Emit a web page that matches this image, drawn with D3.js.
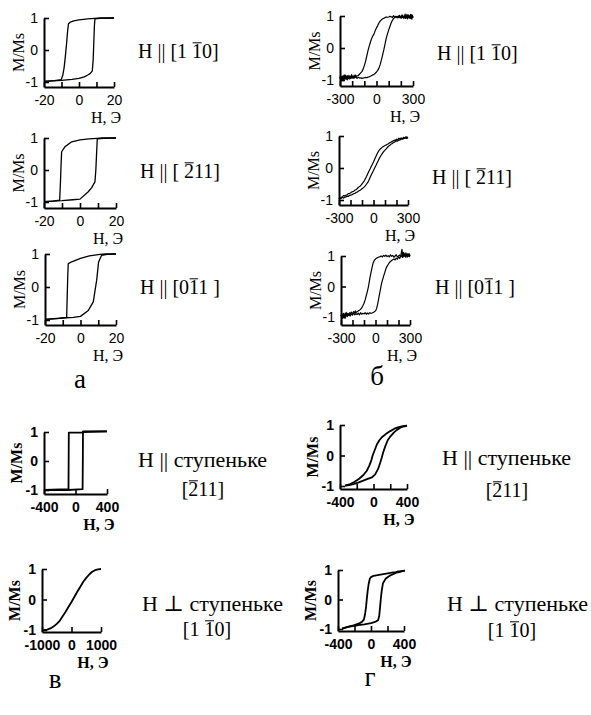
<!DOCTYPE html>
<html>
<head>
<meta charset="utf-8">
<script src="https://cdn.jsdelivr.net/npm/d3@7/dist/d3.min.js"></script>
<style>
  body { margin: 0; background: #fff; }
  svg { display: block; }
  .serif { font-family: "Liberation Serif", "Times New Roman", Times, "DejaVu Serif", serif; }
  .sans { font-family: "Liberation Sans", Arial, Helvetica, sans-serif; }
</style>
</head>
<body>
<svg id="fig" width="591" height="715"></svg>
<script>
// ---- Hysteresis loops, M/Ms versus H (Oe) ----
// Each loop: descending branch (from +H) and ascending branch (from -H), as [H, M/Ms].

// a: H || [1-10], [-211], [0-11]  (scale ±20 Oe)
const a1Down = [[20,1],[12,1],[9,0.99],[5,0.97],[0,0.94],[-3,0.91],[-5,0.87],[-6,0.82],[-6.5,0.6],[-7.1,0.2],[-7.8,-0.2],[-8.5,-0.55],[-9.3,-0.8],[-10.2,-0.93],[-14,-0.96],[-20,-0.98]];
const a1Up   = [[-20,-0.98],[-10,-0.95],[-4,-0.92],[0,-0.89],[3,-0.84],[5,-0.78],[6.5,-0.73],[7.6,-0.65],[8.1,-0.3],[8.5,0.3],[8.8,0.75],[9.1,0.97],[12,0.99],[20,1]];

const a2Down = [[20,1],[12,1],[9.5,0.99],[5,0.97],[0,0.94],[-4.6,0.88],[-8.3,0.73],[-10.2,0.57],[-10.5,0.2],[-10.8,-0.3],[-11.1,-0.7],[-11.3,-0.94],[-15,-0.97],[-20,-0.99]];
const a2Up   = [[-20,-0.99],[-10,-0.96],[-4,-0.93],[0,-0.91],[4.6,-0.68],[6.5,-0.55],[8.3,-0.37],[8.8,0.0],[9.2,0.5],[9.6,0.97],[13,0.99],[20,1]];

const a3Down = [[20,1],[14,1],[11,0.99],[5,0.94],[0,0.87],[-5,0.76],[-6.9,0.71],[-7.2,0.3],[-7.5,-0.3],[-7.8,-0.92],[-12,-0.95],[-20,-0.98]];
const a3Up   = [[-20,-0.98],[-10,-0.94],[-4,-0.92],[0,-0.89],[4.4,-0.71],[7.2,-0.45],[8.2,-0.1],[9.1,0.2],[10.2,0.76],[11.9,0.96],[15,0.99],[20,1]];

// б: same directions, film with noisy signal (scale ±300 Oe)
const b1Down = [[300,0.93],[295,1.02],[290,0.9],[285,0.98],[280,1.05],[275,0.92],[270,0.99],[265,0.95],[260,1.04],[255,0.91],[250,0.97],[245,1.01],[240,0.94],[235,1.06],[230,0.96],[225,0.92],[220,1.0],[215,0.95],[210,1.03],[205,0.93],[200,0.98],[190,0.95],[180,1.0],[170,0.94],[160,0.99],[150,0.96],[140,1.01],[130,0.95],[120,0.98],[110,0.99],[100,0.97],[90,0.96],[80,0.97],[70,0.95],[60,0.93],[50,0.91],[40,0.88],[30,0.84],[20,0.78],[10,0.7],[0,0.63],[-10,0.55],[-20,0.44],[-30,0.38],[-40,0.3],[-50,0.18],[-60,0.06],[-70,-0.08],[-80,-0.25],[-90,-0.42],[-100,-0.55],[-110,-0.66],[-120,-0.74],[-130,-0.78],[-140,-0.82],[-150,-0.86],[-160,-0.87],[-170,-0.9],[-175,-0.84],[-180,-0.93],[-185,-0.86],[-190,-0.95],[-195,-0.88],[-200,-0.92],[-205,-0.83],[-210,-0.95],[-215,-0.89],[-220,-0.97],[-225,-0.86],[-230,-0.93],[-235,-0.88],[-240,-1.0],[-245,-0.9],[-250,-0.94],[-255,-0.85],[-260,-0.97],[-265,-0.9],[-270,-1.02],[-275,-0.88],[-280,-0.95],[-285,-0.91],[-290,-1.03],[-295,-0.89],[-300,-0.96]];
const b1Up   = [[-300,-0.96],[-295,-0.86],[-290,-0.94],[-285,-0.9],[-280,-0.99],[-275,-0.87],[-270,-0.93],[-265,-0.84],[-260,-0.95],[-255,-0.9],[-250,-0.98],[-245,-0.88],[-240,-0.92],[-235,-0.86],[-230,-0.96],[-225,-0.9],[-220,-0.93],[-210,-0.88],[-200,-0.94],[-190,-0.89],[-180,-0.93],[-170,-0.9],[-160,-0.95],[-150,-0.91],[-140,-0.94],[-130,-0.93],[-120,-0.95],[-110,-0.94],[-100,-0.93],[-90,-0.92],[-80,-0.93],[-70,-0.91],[-60,-0.9],[-50,-0.88],[-40,-0.86],[-30,-0.84],[-20,-0.82],[-10,-0.79],[0,-0.75],[10,-0.7],[20,-0.63],[30,-0.52],[40,-0.38],[50,-0.22],[60,-0.06],[70,0.12],[80,0.3],[90,0.44],[100,0.56],[110,0.67],[120,0.78],[130,0.86],[140,0.92],[150,0.95],[160,0.97],[170,0.99],[180,0.95],[190,1.02],[200,0.94],[210,1.03],[220,0.96],[230,1.0],[240,0.92],[250,1.05],[260,0.95],[270,1.01],[280,0.93],[290,1.04],[300,0.97]];

const b2Down = [[300,0.95],[290,0.92],[280,0.97],[270,0.93],[260,0.96],[250,0.9],[240,0.94],[230,0.91],[220,0.93],[210,0.88],[200,0.9],[190,0.86],[180,0.87],[170,0.84],[160,0.83],[150,0.8],[140,0.79],[130,0.76],[120,0.74],[110,0.72],[100,0.7],[90,0.68],[80,0.66],[70,0.63],[60,0.6],[50,0.56],[40,0.5],[30,0.43],[20,0.35],[10,0.27],[0,0.19],[-10,0.12],[-20,0.05],[-30,-0.03],[-40,-0.1],[-50,-0.18],[-60,-0.26],[-70,-0.33],[-80,-0.4],[-90,-0.45],[-100,-0.5],[-110,-0.54],[-120,-0.58],[-130,-0.6],[-140,-0.64],[-150,-0.67],[-160,-0.69],[-170,-0.72],[-180,-0.74],[-190,-0.75],[-200,-0.78],[-210,-0.8],[-220,-0.8],[-230,-0.84],[-240,-0.85],[-250,-0.87],[-260,-0.86],[-270,-0.9],[-280,-0.91],[-290,-0.94],[-300,-0.96]];
const b2Up   = [[-300,-0.98],[-290,-0.93],[-280,-0.95],[-270,-0.92],[-260,-0.94],[-250,-0.9],[-240,-0.91],[-230,-0.88],[-220,-0.89],[-210,-0.86],[-200,-0.85],[-190,-0.84],[-180,-0.82],[-170,-0.8],[-160,-0.79],[-150,-0.76],[-140,-0.75],[-130,-0.72],[-120,-0.7],[-110,-0.68],[-100,-0.65],[-90,-0.62],[-80,-0.59],[-70,-0.55],[-60,-0.5],[-50,-0.45],[-40,-0.38],[-30,-0.3],[-20,-0.22],[-10,-0.15],[0,-0.08],[10,0.0],[20,0.07],[30,0.15],[40,0.22],[50,0.3],[60,0.36],[70,0.42],[80,0.47],[90,0.52],[100,0.56],[110,0.6],[120,0.64],[130,0.68],[140,0.7],[150,0.74],[160,0.76],[170,0.79],[180,0.8],[190,0.83],[200,0.85],[210,0.84],[220,0.88],[230,0.87],[240,0.9],[250,0.92],[260,0.91],[270,0.94],[280,0.93],[290,0.97],[300,0.95]];

const b3Down = [[300,1.04],[295,0.98],[290,1.08],[285,1.0],[280,1.05],[275,0.96],[270,1.03],[265,1.1],[260,0.99],[255,1.06],[250,1.0],[245,1.12],[240,1.02],[235,0.95],[230,1.04],[225,1.0],[220,0.97],[210,1.03],[200,1.0],[190,0.97],[180,1.04],[170,1.0],[160,0.96],[150,1.02],[140,0.99],[130,1.04],[120,0.97],[110,1.01],[100,0.98],[90,1.03],[80,0.99],[70,1.02],[60,0.97],[50,1.0],[40,0.98],[30,0.97],[20,0.95],[10,0.93],[0,0.9],[-10,0.86],[-20,0.78],[-30,0.62],[-40,0.45],[-50,0.25],[-60,0.02],[-70,-0.15],[-80,-0.3],[-90,-0.44],[-100,-0.55],[-110,-0.63],[-120,-0.7],[-130,-0.75],[-140,-0.78],[-150,-0.8],[-160,-0.83],[-170,-0.85],[-175,-0.8],[-180,-0.87],[-190,-0.82],[-200,-0.9],[-210,-0.84],[-220,-0.92],[-225,-0.86],[-230,-0.95],[-240,-0.88],[-250,-0.93],[-255,-0.85],[-260,-0.97],[-265,-0.88],[-270,-0.95],[-275,-1.02],[-280,-0.9],[-285,-0.96],[-290,-1.05],[-295,-0.92],[-300,-0.98]];
const b3Up   = [[-300,-0.98],[-295,-0.9],[-290,-0.95],[-285,-1.0],[-280,-0.88],[-275,-0.96],[-270,-0.92],[-265,-1.04],[-260,-0.9],[-255,-0.97],[-250,-0.93],[-245,-0.99],[-240,-0.89],[-235,-0.95],[-230,-0.91],[-220,-0.97],[-210,-0.9],[-200,-0.94],[-190,-0.86],[-180,-0.93],[-170,-0.88],[-160,-0.92],[-150,-0.87],[-140,-0.93],[-130,-0.86],[-120,-0.91],[-110,-0.88],[-100,-0.9],[-90,-0.86],[-80,-0.91],[-70,-0.87],[-60,-0.9],[-50,-0.86],[-40,-0.88],[-30,-0.87],[-20,-0.85],[-10,-0.83],[0,-0.8],[10,-0.72],[20,-0.55],[30,-0.35],[40,-0.15],[50,0.05],[60,0.2],[70,0.33],[80,0.45],[90,0.58],[100,0.66],[110,0.72],[120,0.78],[130,0.82],[140,0.85],[150,0.88],[160,0.9],[170,0.87],[180,0.93],[190,0.9],[200,0.96],[210,0.92],[220,1.02],[225,1.12],[230,1.22],[235,1.05],[240,0.97],[245,1.08],[250,1.0],[255,1.06],[260,0.96],[265,1.05],[270,1.0],[275,1.08],[280,0.98],[285,1.04],[290,1.0],[295,1.06],[300,1.02]];

// в: field along / across the step
const c1Down = [[400,1.02],[95,1.02],[90,0.98],[-85,0.98],[-87,0.0],[-89,-0.97],[-400,-1.0]];
const c1Up   = [[-400,-1.0],[-89,-1.0],[90,-0.97],[93,0.0],[95,1.0],[400,1.02]];
const c2Curve = [[-950,-1.0],[-850,-1.0],[-800,-0.98],[-700,-0.94],[-600,-0.88],[-500,-0.8],[-400,-0.7],[-300,-0.55],[-200,-0.4],[-100,-0.24],[0,-0.08],[100,0.09],[200,0.26],[300,0.42],[400,0.58],[500,0.71],[600,0.82],[700,0.91],[800,0.96],[900,0.99],[1000,1.0]];

// г: same geometry, second sample
const d1Down = [[400,0.98],[350,0.96],[300,0.93],[250,0.88],[200,0.8],[150,0.71],[100,0.6],[70,0.5],[40,0.36],[15,0.18],[-10,0.0],[-25,-0.15],[-50,-0.33],[-80,-0.5],[-120,-0.64],[-175,-0.77],[-230,-0.87],[-290,-0.95],[-340,-0.99]];
const d1Up   = [[-340,-0.99],[-290,-0.97],[-230,-0.93],[-175,-0.88],[-100,-0.8],[-20,-0.72],[20,-0.62],[55,-0.44],[80,-0.24],[100,-0.06],[115,0.1],[140,0.3],[170,0.5],[200,0.62],[245,0.76],[280,0.84],[320,0.91],[360,0.95],[400,0.98]];
const d2Down = [[410,0.98],[380,0.97],[350,0.95],[320,0.95],[300,0.93],[270,0.92],[235,0.9],[150,0.86],[80,0.83],[30,0.8],[0,0.76],[-15,0.7],[-30,0.5],[-40,0.3],[-50,0.05],[-60,-0.25],[-72,-0.5],[-86,-0.68],[-110,-0.76],[-137,-0.8],[-200,-0.87],[-280,-0.93],[-350,-0.99]];
const d2Up   = [[-350,-0.99],[-280,-0.93],[-200,-0.89],[-156,-0.87],[-80,-0.84],[0,-0.8],[50,-0.76],[86,-0.7],[100,-0.55],[110,-0.25],[120,0.05],[130,0.3],[145,0.55],[176,0.7],[235,0.82],[300,0.9],[350,0.94],[410,0.98]];

// Axis ticks and labels
const yTicks = [-1, 0, 1];
const ticksA = [-20, -10, 0, 10, 20],         labelsA = [-20, 0, 20];
const ticksB = [-300, -200, -100, 0, 100, 200, 300], labelsB = [-300, 0, 300];
const ticksC1 = [-400, 0, 400],               labelsC1 = [-400, 0, 400];
const ticksC2 = [-1000, 0, 1000],             labelsC2 = [-1000, 0, 1000];
const ticksD = [-400, -200, 0, 200, 400],     labelsD = [-400, 0, 400];

// Texts
const yTitle = "M/Ms";
const xTitle = "H, Э";
const dir110 = ["H || [1 ", "1", "0]"];
const dir211 = ["H || [ ", "2", "11]"];
const dir011 = ["H || [0", "1", "1 ]"];
const along = "H || ступеньке";
const across = "H \u22A5 ступеньке";
const idx211 = ["[", "2", "11]"];
const idx110 = ["[1 ", "1", "0]"];
const panelLetters = ["а", "б", "в", "г"];

// ---- drawing ----
const svg = d3.select("#fig");

const panels = [
  { xd: [-20, 20], xr: [44, 114], yTop: 18, yMinus: 82, axisY: 87, ticks: ticksA, labels: labelsA, curves: [a1Down, a1Up], bold: false, w: 1.3,
    dir: { t: dir110, x: 138, y: 58 } },
  { xd: [-20, 20], xr: [44, 116], yTop: 138, yMinus: 202, axisY: 208, ticks: ticksA, labels: labelsA, curves: [a2Down, a2Up], bold: false, w: 1.3,
    dir: { t: dir211, x: 140, y: 178 } },
  { xd: [-20, 20], xr: [45, 116], yTop: 254, yMinus: 320, axisY: 325, ticks: ticksA, labels: labelsA, curves: [a3Down, a3Up], bold: false, w: 1.3,
    dir: { t: dir011, x: 140, y: 294 } },
  { xd: [-300, 300], xr: [340, 413], yTop: 16, yMinus: 80, axisY: 86, ticks: ticksB, labels: labelsB, curves: [b1Down, b1Up], bold: false, w: 1.2,
    dir: { t: dir110, x: 437, y: 60 } },
  { xd: [-300, 300], xr: [339, 408], yTop: 136, yMinus: 200, axisY: 205, ticks: ticksB, labels: labelsB, curves: [b2Down, b2Up], bold: false, w: 1.2,
    dir: { t: dir211, x: 432, y: 184 } },
  { xd: [-300, 300], xr: [341, 410], yTop: 256, yMinus: 317, axisY: 325, ticks: ticksB, labels: labelsB, curves: [b3Down, b3Up], bold: false, w: 1.2,
    dir: { t: dir011, x: 435, y: 294 } },
  { xd: [-400, 400], xr: [44, 107], yTop: 432, yMinus: 490, axisY: 494, ticks: ticksC1, labels: labelsC1, curves: [c1Down, c1Up], bold: true, w: 1.8,
    head: { t: along, x: 138, y: 467 }, idx: { t: idx211, cx: 203, y: 496 } },
  { xd: [-1000, 1000], xr: [42, 101], yTop: 569, yMinus: 630, axisY: 632, ticks: ticksC2, labels: labelsC2, curves: [c2Curve], bold: true, w: 1.8,
    head: { t: across, x: 142, y: 611 }, idx: { t: idx110, cx: 207, y: 636 } },
  { xd: [-400, 400], xr: [340, 407], yTop: 425, yMinus: 486, axisY: 489, ticks: ticksD, labels: labelsD, curves: [d1Down, d1Up], bold: true, w: 1.8,
    head: { t: along, x: 442, y: 465 }, idx: { t: idx211, cx: 507, y: 497 } },
  { xd: [-400, 400], xr: [338, 404], yTop: 570, yMinus: 629, axisY: 631, ticks: ticksD, labels: labelsD, curves: [d2Down, d2Up], bold: true, w: 1.8,
    head: { t: across, x: 447, y: 611 }, idx: { t: idx110, cx: 512, y: 637 } }
];

// text with an overbar over one character: parts = [before, barred, after]
function barText(parts, x, y, size, anchor) {
  const txt = svg.append("text")
    .attr("class", "serif")
    .attr("x", x).attr("y", y)
    .attr("font-size", size)
    .attr("text-anchor", anchor || "start")
    .style("white-space", "pre")
    .text(parts.join(""));
  const node = txt.node();
  const i = parts[0].length;
  const x0 = node.getStartPositionOfChar(i).x;
  const x1 = node.getEndPositionOfChar(i).x;
  const yb = y - size * 0.76;
  svg.append("line").attr("x1", x0 + 0.5).attr("x2", x1 - 0.5)
    .attr("y1", yb).attr("y2", yb)
    .attr("stroke", "#000").attr("stroke-width", 1);
}

panels.forEach(p => {
  const x = d3.scaleLinear().domain(p.xd).range(p.xr);
  const unit = (p.yMinus - p.yTop) / 2;
  const yLow = -1 - (p.axisY - p.yMinus) / unit;
  const y = d3.scaleLinear().domain([yLow, 1]).range([p.axisY, p.yTop]);
  const g = svg.append("g");
  const weight = p.bold ? "bold" : "normal";

  const line = d3.line().x(d => x(d[0])).y(d => y(d[1]));
  p.curves.forEach(c => g.append("path")
    .attr("d", line(c)).attr("fill", "none")
    .attr("stroke", "#000").attr("stroke-width", p.w)
    .attr("stroke-linejoin", "round"));

  const xAxis = d3.axisBottom(x).tickValues(p.ticks).tickSizeInner(-5).tickSizeOuter(0).tickPadding(8)
    .tickFormat(d => p.labels.includes(d) ? String(d) : "");
  const gx = g.append("g").attr("transform", `translate(0,${p.axisY})`).call(xAxis);
  const yAxis = d3.axisLeft(y).tickValues(yTicks).tickSizeInner(-5).tickSizeOuter(0).tickPadding(6)
    .tickFormat(d => String(d));
  const gy = g.append("g").attr("transform", `translate(${p.xr[0]},0)`).call(yAxis);

  [gx, gy].forEach(a => {
    a.attr("font-family", null).attr("font-size", null);
    a.select(".domain").attr("stroke", "#000").attr("stroke-width", 2);
    a.selectAll(".tick line").attr("stroke", "#000").attr("stroke-width", 1.6);
    a.selectAll(".tick text").attr("fill", "#000").attr("class", "sans")
      .attr("font-size", 14).attr("font-weight", weight);
  });
  gx.selectAll(".tick text").attr("dy", null).attr("y", 18);
  gy.selectAll(".tick text").attr("dy", "0.35em");

  // axis titles
  g.append("text").attr("class", "serif")
    .attr("transform", `translate(${p.xr[0] - (p.bold ? 28 : 26)},${(p.yTop + p.axisY) / 2}) rotate(-90)`)
    .attr("text-anchor", "middle").attr("dy", "0.35em")
    .attr("font-size", 16).attr("font-weight", weight)
    .text(yTitle);
  g.append("text").attr("class", "serif")
    .attr("x", p.xr[1] - 8).attr("y", p.axisY + 36)
    .attr("text-anchor", "middle")
    .attr("font-size", 16).attr("font-weight", weight)
    .text(xTitle);

  // field direction captions
  if (p.dir) barText(p.dir.t, p.dir.x, p.dir.y, 20);
  if (p.head) {
    svg.append("text").attr("class", "serif").attr("x", p.head.x).attr("y", p.head.y)
      .attr("font-size", 22).text(p.head.t);
    barText(p.idx.t, p.idx.cx, p.idx.y, 20, "middle");
  }
});

// panel letters
const letterPos = [[80, 388], [377, 385], [55, 688], [370, 686]];
panelLetters.forEach((l, i) => svg.append("text").attr("class", "serif")
  .attr("x", letterPos[i][0]).attr("y", letterPos[i][1])
  .attr("text-anchor", "middle")
  .attr("font-size", 27).text(l));
</script>
</body>
</html>
